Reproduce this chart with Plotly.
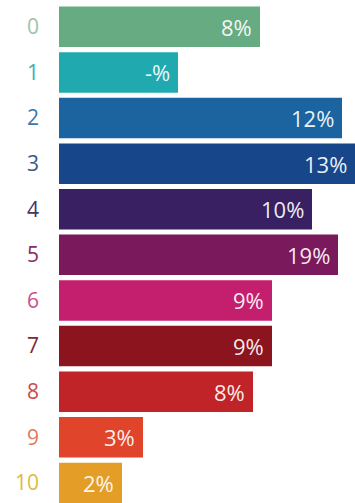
import plotly.graph_objects as go

categories = ["0", "1", "2", "3", "4", "5", "6", "7", "8", "9", "10"]
# bar lengths (arbitrary units)
bar_lengths = [201, 119, 283, 296, 253, 279, 213, 213, 194, 84, 63]
value_labels = ["8%", "-%", "12%", "13%", "10%", "19%", "9%", "9%", "8%", "3%", "2%"]
bar_colors = ["#66ab82", "#20aab0", "#1b64a0", "#18468a", "#392062", "#7a1a5c",
              "#c41e6e", "#8c141e", "#c02428", "#e0442a", "#e49e28"]
label_colors = ["#9cc3ad", "#3ab0b8", "#3c78ad", "#3a5a8a", "#45355f", "#8a2a6a",
                "#c8508a", "#7a2a35", "#d04848", "#e0785a", "#dcbc3c"]

ypos = list(range(len(categories)))

fig = go.Figure()
fig.add_trace(go.Bar(
    x=bar_lengths, y=ypos, orientation="h",
    marker=dict(color=bar_colors, line=dict(width=0)),
    hoverinfo="skip",
))

for i, (L, t) in enumerate(zip(bar_lengths, value_labels)):
    fig.add_annotation(x=L, y=i, text=t, showarrow=False, xanchor="right",
                       yanchor="middle", xshift=-6,
                       font=dict(family="Open Sans", size=22, color="rgba(255,255,255,0.93)"))

fig.update_layout(
    width=355, height=503,
    margin=dict(l=59, r=0, t=4, b=0, pad=0),
    paper_bgcolor="white", plot_bgcolor="white",
    bargap=0.112, showlegend=False,
)
fig.update_xaxes(range=[0, 296], visible=False)
fig.update_yaxes(
    range=[10.44, -0.5],
    tickvals=ypos,
    ticktext=[f'<span style="color:{c}">{t}</span>' for t, c in zip(categories, label_colors)],
    tickfont=dict(family="Open Sans", size=21),
    ticklabelstandoff=19,
    showgrid=False, zeroline=False, showline=False, ticks="",
)

fig.write_html("out.html")
